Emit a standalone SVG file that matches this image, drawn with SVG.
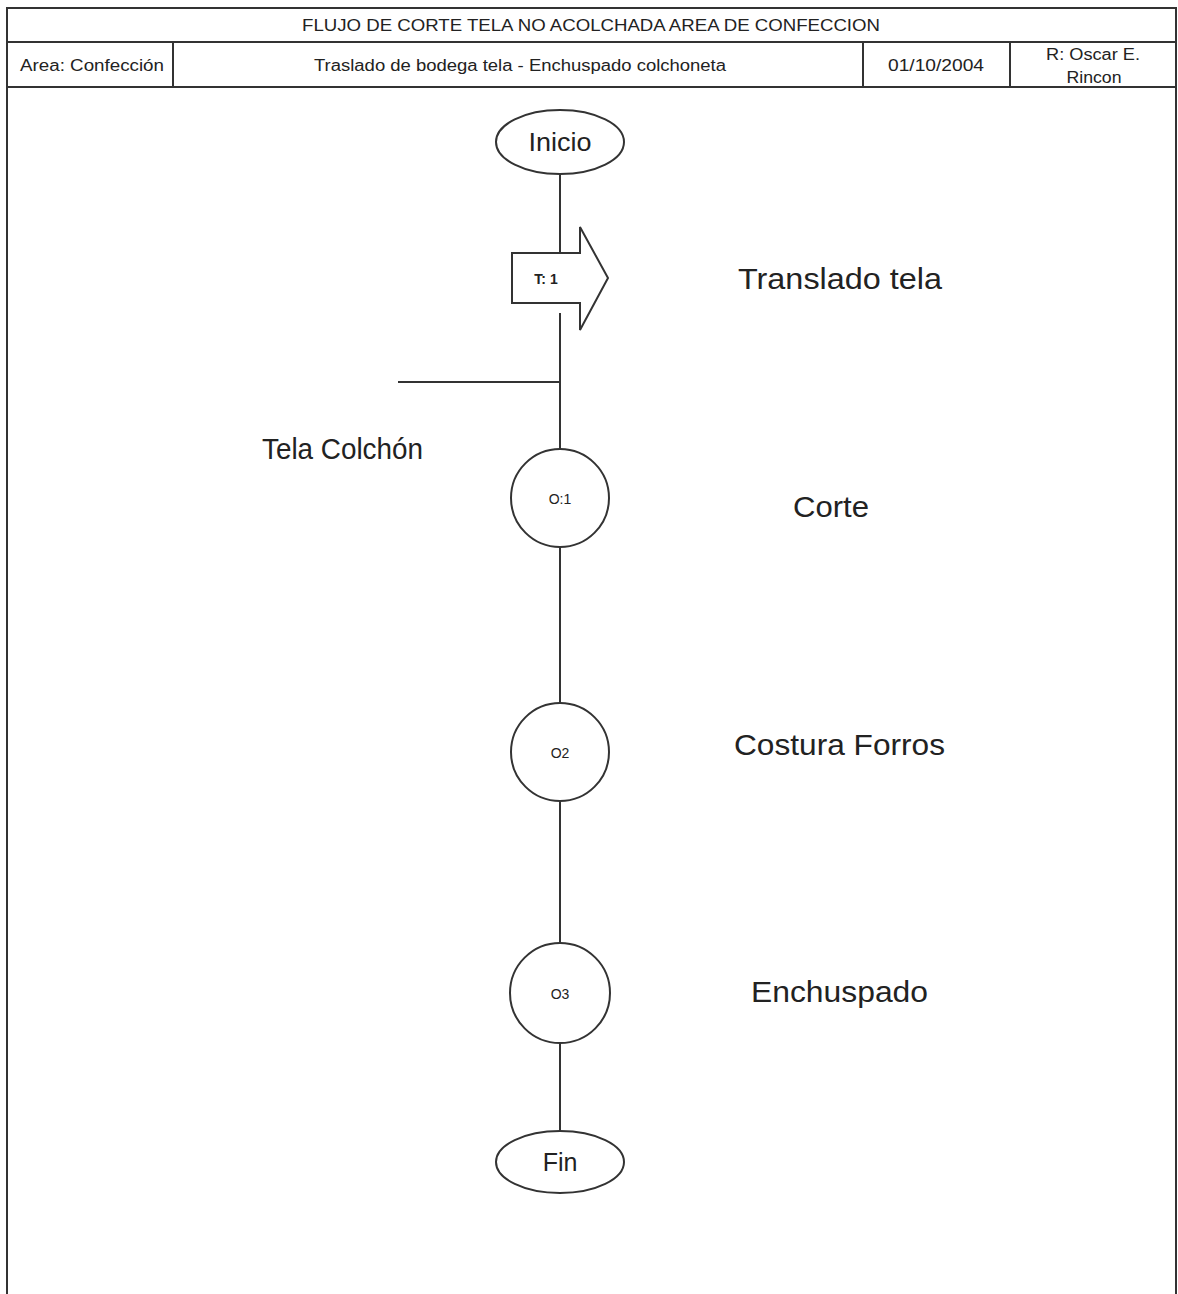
<svg xmlns="http://www.w3.org/2000/svg" width="1178" height="1294" viewBox="0 0 1178 1294">
  <style>
    .frame { fill: none; stroke: #333; stroke-width: 2; }
    .shape { fill: #fff; stroke: #333; stroke-width: 2; }
    .link { fill: none; stroke: #333; stroke-width: 2; }
    .hdr { font-family: "Liberation Sans", Arial, sans-serif; font-size: 16px; fill: #222; text-anchor: middle; }
    .big { font-family: "Liberation Sans", Arial, sans-serif; font-size: 29px; fill: #222; }
    .term { font-family: "Liberation Sans", Arial, sans-serif; font-size: 25px; fill: #222; text-anchor: middle; }
    .code { font-family: "Liberation Sans", Arial, sans-serif; font-size: 14px; fill: #222; text-anchor: middle; }
  </style>
  <rect width="1178" height="1294" fill="#fff"/>

  <!-- header table and page frame -->
  <g id="header">
    <path class="frame" d="M7,1294 V8 H1176 V1294"/>
    <line class="frame" x1="7" y1="42" x2="1176" y2="42"/>
    <line class="frame" x1="7" y1="87" x2="1176" y2="87"/>
    <line class="frame" x1="173" y1="42" x2="173" y2="87"/>
    <line class="frame" x1="863" y1="42" x2="863" y2="87"/>
    <line class="frame" x1="1010" y1="42" x2="1010" y2="87"/>
    <text class="hdr" x="591" y="31" textLength="578" lengthAdjust="spacingAndGlyphs">FLUJO DE CORTE TELA NO ACOLCHADA AREA DE CONFECCION</text>
    <text class="hdr" x="92" y="71" textLength="144" lengthAdjust="spacingAndGlyphs">Area: Confección</text>
    <text class="hdr" x="520" y="71" textLength="412" lengthAdjust="spacingAndGlyphs">Traslado de bodega tela  - Enchuspado colchoneta</text>
    <text class="hdr" x="936" y="71" textLength="96" lengthAdjust="spacingAndGlyphs">01/10/2004</text>
    <text class="hdr" x="1093" y="60" textLength="94" lengthAdjust="spacingAndGlyphs">R: Oscar E.</text>
    <text class="hdr" x="1094" y="83" textLength="55" lengthAdjust="spacingAndGlyphs">Rincon</text>
  </g>

  <!-- flow connectors -->
  <g id="connectors">
    <line class="link" x1="560" y1="174" x2="560" y2="253"/>
    <line class="link" x1="560" y1="313" x2="560" y2="448"/>
    <line class="link" x1="398" y1="382" x2="560" y2="382"/>
    <line class="link" x1="560" y1="548" x2="560" y2="703"/>
    <line class="link" x1="560" y1="802" x2="560" y2="943"/>
    <line class="link" x1="560" y1="1044" x2="560" y2="1131"/>
  </g>

  <g id="inicio">
    <ellipse class="shape" cx="560" cy="142" rx="64" ry="32"/>
    <text class="term" x="560" y="151" textLength="63" lengthAdjust="spacingAndGlyphs">Inicio</text>
  </g>

  <g id="t1">
    <polygon class="shape" points="512,253 580,253 580,227 608,278 580,330 580,303 512,303"/>
    <text class="code" x="546" y="284" font-weight="bold">T: 1</text>
  </g>
  <text class="big" x="738" y="289" textLength="204" lengthAdjust="spacingAndGlyphs">Translado tela</text>

  <text class="big" x="262" y="459" textLength="161" lengthAdjust="spacingAndGlyphs">Tela Colchón</text>

  <g id="o1">
    <circle class="shape" cx="560" cy="498" r="49"/>
    <text class="code" x="560" y="504">O:1</text>
  </g>
  <text class="big" x="793" y="517" textLength="76" lengthAdjust="spacingAndGlyphs">Corte</text>

  <g id="o2">
    <circle class="shape" cx="560" cy="752" r="49"/>
    <text class="code" x="560" y="758">O2</text>
  </g>
  <text class="big" x="734" y="755" textLength="211" lengthAdjust="spacingAndGlyphs">Costura Forros</text>

  <g id="o3">
    <circle class="shape" cx="560" cy="993" r="50"/>
    <text class="code" x="560" y="999">O3</text>
  </g>
  <text class="big" x="751" y="1002" textLength="177" lengthAdjust="spacingAndGlyphs">Enchuspado</text>

  <g id="fin">
    <ellipse class="shape" cx="560" cy="1162" rx="64" ry="31"/>
    <text class="term" x="560" y="1171">Fin</text>
  </g>
</svg>
